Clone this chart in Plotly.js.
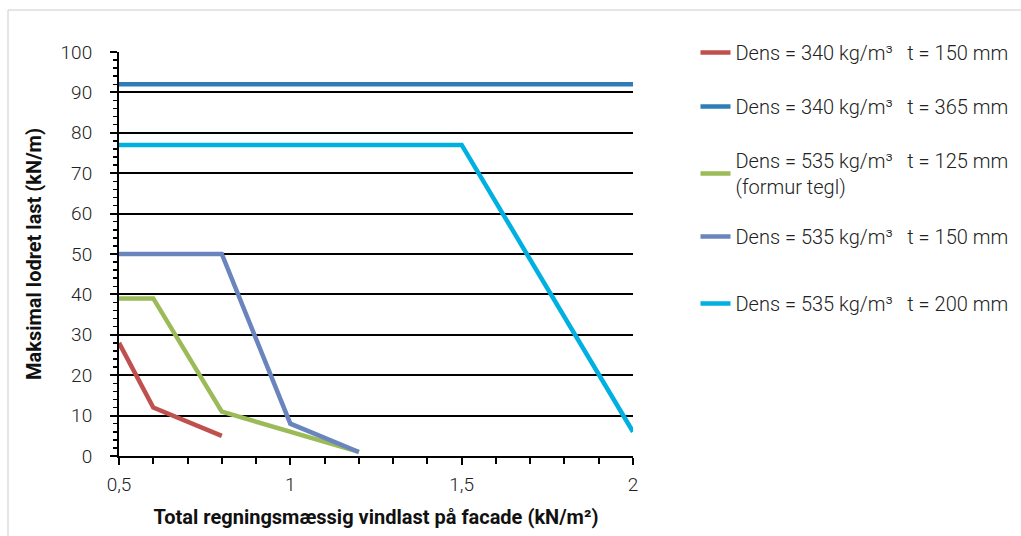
<!DOCTYPE html>
<html><head><meta charset="utf-8">
<script src="https://cdn.plot.ly/plotly-3.0.1.min.js"></script>
<style>html,body{margin:0;padding:0;background:#fff}#chart{width:1021px;height:536px}</style>
</head><body><div id="chart"></div>
<script>
const seriesNames = [
  "Dens = 340 kg/m³&nbsp;&nbsp;&nbsp;t = 150 mm",
  "Dens = 340 kg/m³&nbsp;&nbsp;&nbsp;t = 365 mm",
  "Dens = 535 kg/m³&nbsp;&nbsp;&nbsp;t = 125 mm<br>(formur tegl)",
  "Dens = 535 kg/m³&nbsp;&nbsp;&nbsp;t = 150 mm",
  "Dens = 535 kg/m³&nbsp;&nbsp;&nbsp;t = 200 mm"
];
const x340_150 = [0.5, 0.6, 0.8];
const y340_150 = [28, 12, 5];
const x340_365 = [0.5, 2];
const y340_365 = [92, 92];
const x535_125 = [0.5, 0.6, 0.8, 1.2];
const y535_125 = [39, 39, 11, 1];
const x535_150 = [0.5, 0.8, 1.0, 1.2];
const y535_150 = [50, 50, 8, 1];
const x535_200 = [0.5, 1.5, 2];
const y535_200 = [77, 77, 6];
const colors = ["#C0504D", "#2F7DB7", "#9BBB59", "#6A85BE", "#00B0E0"];
const xTickVals = [0.5, 1, 1.5, 2];
const xTickText = ["0,5", "1", "1,5", "2"];

const xs = [x340_150, x340_365, x535_125, x535_150, x535_200];
const ys = [y340_150, y340_365, y535_125, y535_150, y535_200];
const legendFor = ["legend", "legend", "legend", "legend2", "legend2"];
const traces = xs.map((x, i) => ({
  x: x, y: ys[i], type: "scatter", mode: "lines", name: seriesNames[i],
  legendgroup: "g" + i, legend: legendFor[i],
  line: {color: colors[i], width: 4.5}
}));

const font = "Roboto, 'Open Sans', sans-serif";
const legendFont = {family: font, size: 20, color: "#222", weight: 300};
const layout = {
  width: 1021, height: 536,
  margin: {l: 119, r: 388, t: 52, b: 80, autoexpand: false},
  paper_bgcolor: "#fff", plot_bgcolor: "#fff",
  font: {family: font, size: 19, color: "#222"},
  showlegend: true,
  legend: {x: 1.1216, xanchor: "left", y: 1.047, yanchor: "top",
    font: legendFont, tracegroupgap: 25, maxheight: 536, bgcolor: "rgba(0,0,0,0)"},
  legend2: {x: 1.1216, xanchor: "left", y: (456 - 217) / 404, yanchor: "top",
    font: legendFont, tracegroupgap: 38, maxheight: 536, bgcolor: "rgba(0,0,0,0)"},
  xaxis: {
    range: [0.5, 2], tickvals: xTickVals, ticktext: xTickText,
    showgrid: false, zeroline: false,
    showline: true, linecolor: "#000", linewidth: 2,
    ticks: "outside", ticklen: 7, tickwidth: 2, tickcolor: "#000",
    minor: {dtick: 0.1, ticks: "outside", ticklen: 6, tickwidth: 2, tickcolor: "#000"},
    tickfont: {size: 19, color: "#222", weight: 300}, ticklabelstandoff: 3,
    title: {text: "Total regningsmæssig vindlast på facade (kN/m²)",
      font: {size: 20, color: "#111", weight: "bold"}, standoff: 15}
  },
  yaxis: {
    range: [0, 100], dtick: 10, tick0: 0,
    showgrid: true, gridcolor: "#000", gridwidth: 2,
    zeroline: false,
    showline: true, linecolor: "#000", linewidth: 2,
    ticks: "outside", ticklen: 7, tickwidth: 2, tickcolor: "#000",
    minor: {dtick: 2, ticks: "outside", ticklen: 4, tickwidth: 1.5, tickcolor: "#000", showgrid: false},
    tickfont: {size: 19, color: "#222", weight: 300}, ticklabelstandoff: 14,
    title: {text: "Maksimal lodret last (kN/m)",
      font: {size: 20, color: "#111", weight: "bold"}, standoff: 14}
  },
  shapes: [{type: "rect", xref: "paper", yref: "paper",
    x0: (8 - 119) / 514, x1: (1030 - 119) / 514,
    y0: (456 - 545) / 404, y1: (456 - 10) / 404,
    line: {color: "#ccc", width: 1}, layer: "below"}]
};
Plotly.newPlot("chart", traces, layout, {displayModeBar: false, staticPlot: true});
</script></body></html>
